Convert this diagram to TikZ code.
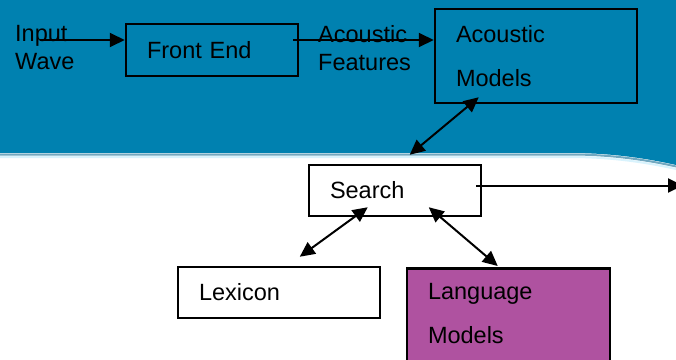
\documentclass[tikz,border=0pt]{standalone}
\usepackage{fontspec}
\setmainfont{Liberation Sans}
\usetikzlibrary{arrows.meta,calc}
\definecolor{bandblue}{RGB}{0,129,176}
\definecolor{banddark}{RGB}{20,110,150}
\definecolor{lmpurple}{RGB}{175,82,160}
\tikzset{
  txt/.style={font=\fontsize{23.5}{28}\selectfont, inner sep=0pt, align=left, anchor=north west},
  boxnode/.style={draw=black, line width=2.5pt, inner ysep=0pt, inner xsep=21pt, align=left,
    font=\fontsize{23.5}{28}\selectfont},
  wide/.style={font=\fontsize{23.5}{44}\selectfont},
  conn/.style={line width=2pt, -{Triangle[length=15pt,width=14pt]}},
  bconn/.style={line width=2pt, {Triangle[length=15pt,width=14pt]}-{Triangle[length=15pt,width=14pt]}}
}
\begin{document}
\begin{tikzpicture}[x=1pt,y=-1pt]
\clip (0,0) rectangle (676,359);
\fill[white] (0,0) rectangle (676,359);
% blue band
\fill[bandblue] (0,0) -- (676,0) -- (676,165) .. controls (645,158) and (610,153) .. (570,153) -- (0,153) -- cycle;
\draw[banddark, line width=2pt, opacity=0.6] (0,154.5) -- (570,154.5) .. controls (610,154.5) and (645,159.5) .. (676,166.5);
\draw[cyan!15, line width=2pt] (0,157) -- (570,157) .. controls (610,157) and (645,162) .. (676,169);
% nodes
\node[txt] (inp) at (15,25) {Input\\Wave};
\node[txt] (af) at (318,25) {Acoustic\\Features};
\node[boxnode, text width=130pt, minimum height=52pt] (fe) at (212,50) {Front End};
\node[boxnode, wide, text width=160pt, minimum height=94pt] (am) at (536,56) {Acoustic\\Models};
\node[boxnode, fill=white, text width=130pt, minimum height=51pt] (se) at (395,190.5) {Search};
\node[boxnode, text width=160pt, minimum height=51pt] (lx) at (279,292.5) {Lexicon};
\node[boxnode, wide, fill=lmpurple, text width=161pt, minimum height=135pt, anchor=north] (lm) at (508.5,267) {Language\\Models\\\mbox{}};
\coordinate (out) at (683,185.5);
% connectors
\draw[conn] ($(inp.north west)+(25,15)$) -- (fe.west |- 0,40);
\draw[conn] ($(fe.east |- 0,40)+(-6,0)$) -- (am.west |- 0,40);
\draw[bconn] ($(am.south west)+(45,-7)$) -- ($(se.north west)+(102,-9)$);
\draw[conn] ($(se.east)+(-6,-5)$) -- (out);
\draw[bconn] ($(se.south west)+(60,-10)$) -- ($(lx.north west)+(123,-9)$);
\draw[bconn] ($(se.south west)+(121,-10)$) -- ($(lm.north west)+(92,-1)$);
\end{tikzpicture}
\end{document}
